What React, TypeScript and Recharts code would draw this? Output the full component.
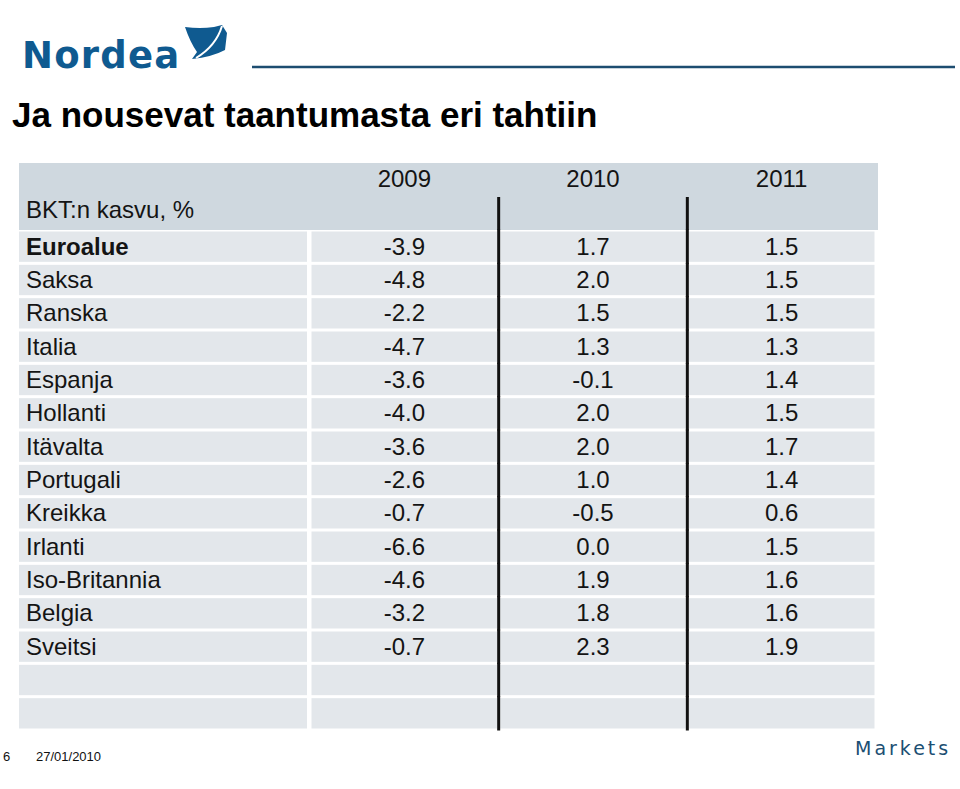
import { ScatterChart, Scatter, XAxis, YAxis } from "recharts";

const years = ["2009", "2010", "2011"];
const countries = [
  "Euroalue",
  "Saksa",
  "Ranska",
  "Italia",
  "Espanja",
  "Hollanti",
  "Itävalta",
  "Portugali",
  "Kreikka",
  "Irlanti",
  "Iso-Britannia",
  "Belgia",
  "Sveitsi",
];
const gdp2009 = [-3.9, -4.8, -2.2, -4.7, -3.6, -4.0, -3.6, -2.6, -0.7, -6.6, -4.6, -3.2, -0.7];
const gdp2010 = [1.7, 2.0, 1.5, 1.3, -0.1, 2.0, 2.0, 1.0, -0.5, 0.0, 1.9, 1.8, 2.3];
const gdp2011 = [1.5, 1.5, 1.5, 1.3, 1.4, 1.5, 1.7, 1.4, 0.6, 1.5, 1.6, 1.6, 1.9];
// two empty rows at the bottom of the table
const blankRows = [" ", "  "];

const rows = [...countries, ...blankRows];
const series = [gdp2009, gdp2010, gdp2011];

const cells = rows.flatMap((row, i) =>
  years.map((year, j) => ({
    row,
    year,
    value: i < countries.length ? series[j][i] : null,
  }))
);

// layout
const W = 960;
const H = 789;
const TABLE_LEFT = 19;
const LABEL_W = 291;
const HEADER_TOP = 163;
const HEADER_H = 67;
const MARGIN_RIGHT = 84;
const MARGIN_BOTTOM = 59;
const PLOT_W = W - TABLE_LEFT - LABEL_W - MARGIN_RIGHT;
const PLOT_H = H - HEADER_TOP - HEADER_H - MARGIN_BOTTOM;
const CELL_W = PLOT_W / years.length;
const CELL_H = PLOT_H / rows.length;

const FONT = "'Liberation Sans', Arial, sans-serif";
const CELL_BG = "#e3e7eb";
const HEADER_BG = "#cfd8df";
const TEXT = "#141414";

function ValueCell(props: any) {
  const { cx, cy, payload } = props;
  const showLine = payload.year !== years[0];
  return (
    <g>
      <rect
        x={cx - CELL_W / 2 + 1.5}
        y={cy - CELL_H / 2 + 1.5}
        width={CELL_W - 3}
        height={CELL_H - 3}
        fill={CELL_BG}
      />
      {showLine && (
        <line
          x1={cx - CELL_W / 2}
          x2={cx - CELL_W / 2}
          y1={cy - CELL_H / 2 - 0.5}
          y2={cy + CELL_H / 2 + 0.5}
          stroke="#111"
          strokeWidth={3}
        />
      )}
      {payload.value !== null && (
        <text
          x={cx}
          y={cy + 8}
          textAnchor="middle"
          fontSize={24}
          fontFamily={FONT}
          fill={TEXT}
        >
          {payload.value.toFixed(1)}
        </text>
      )}
    </g>
  );
}

function RowTick(props: any) {
  const { y, payload } = props;
  const label = String(payload.value).trim();
  return (
    <g>
      <rect
        x={TABLE_LEFT}
        y={y - CELL_H / 2 + 1.5}
        width={LABEL_W - 3}
        height={CELL_H - 3}
        fill={CELL_BG}
      />
      {label && (
        <text
          x={TABLE_LEFT + 7}
          y={y + 8}
          fontSize={24}
          fontFamily={FONT}
          fontWeight={label === "Euroalue" ? "bold" : "normal"}
          fill={TEXT}
        >
          {label}
        </text>
      )}
    </g>
  );
}

function YearTick(props: any) {
  const { x, y, payload } = props;
  const showLine = payload.value !== years[0];
  return (
    <g>
      {showLine && (
        <line
          x1={x - CELL_W / 2}
          x2={x - CELL_W / 2}
          y1={y - 33}
          y2={y}
          stroke="#111"
          strokeWidth={3}
        />
      )}
      <text
        x={x}
        y={y - 43}
        textAnchor="middle"
        fontSize={24}
        fontFamily={FONT}
        fill={TEXT}
      >
        {payload.value}
      </text>
    </g>
  );
}

function NordeaLogo() {
  return (
    <div style={{ position: "absolute", left: 0, top: 0, width: W, height: 80 }}>
      <div
        style={{
          position: "absolute",
          left: 22,
          top: 34,
          fontFamily: "'DejaVu Sans', sans-serif",
          fontWeight: "bold",
          fontSize: 37,
          letterSpacing: 1.2,
          color: "#0f5a90",
          lineHeight: "44px",
        }}
      >
        Nordea
      </div>
      <svg width={W} height={80} style={{ position: "absolute", left: 0, top: 0 }}>
        <path
          d="M185,27 Q200,29 214,27 L222,25 L227,33 L225,50 Q212,57 192,59 L197,52 Q190,42 185,27 Z"
          fill="#0f5a90"
        />
        <path d="M222,26 Q216,46 196,58" stroke="#fff" strokeWidth={2} fill="none" />
        <line x1={252} x2={955} y1={67} y2={67} stroke="#1d4d70" strokeWidth={2.5} />
      </svg>
    </div>
  );
}

export default function App() {
  return (
    <div
      style={{
        position: "absolute",
        left: 0,
        top: 0,
        width: W,
        height: H,
        background: "#fff",
        overflow: "hidden",
        fontFamily: FONT,
      }}
    >
      <NordeaLogo />
      <div
        style={{
          position: "absolute",
          left: 12,
          top: 94,
          fontSize: 35,
          fontWeight: "bold",
          lineHeight: "42px",
          color: "#000",
        }}
      >
        Ja nousevat taantumasta eri tahtiin
      </div>
      <div
        style={{
          position: "absolute",
          left: TABLE_LEFT,
          top: HEADER_TOP,
          width: W - TABLE_LEFT - MARGIN_RIGHT + 2,
          height: HEADER_H,
          background: HEADER_BG,
        }}
      />
      <div
        style={{
          position: "absolute",
          left: TABLE_LEFT + 7,
          top: 195,
          fontSize: 24,
          lineHeight: "30px",
          color: TEXT,
        }}
      >
        BKT:n kasvu, %
      </div>
      <div style={{ position: "absolute", left: 0, top: 0 }}>
        <ScatterChart
          width={W}
          height={H}
          margin={{ top: HEADER_TOP, right: MARGIN_RIGHT, bottom: MARGIN_BOTTOM, left: TABLE_LEFT }}
        >
          <XAxis
            xAxisId={0}
            type="category"
            dataKey="year"
            orientation="top"
            scale="band"
            allowDuplicatedCategory={false}
            ticks={years}
            height={HEADER_H}
            axisLine={false}
            tickLine={false}
            tickSize={0}
            tickMargin={0}
            interval={0}
            tick={(p: any) => <YearTick {...p} />}
          />
          <YAxis
            yAxisId={0}
            type="category"
            dataKey="row"
            scale="band"
            reversed
            allowDuplicatedCategory={false}
            ticks={rows}
            width={LABEL_W}
            axisLine={false}
            tickLine={false}
            tickSize={0}
            tickMargin={0}
            interval={0}
            tick={(p: any) => <RowTick {...p} />}
          />
          <Scatter
            data={cells}
            isAnimationActive={false}
            shape={(p: any) => <ValueCell {...p} />}
          />
        </ScatterChart>
      </div>
      <div style={{ position: "absolute", left: 3, top: 749, fontSize: 13, lineHeight: "16px", color: "#111" }}>
        6
      </div>
      <div style={{ position: "absolute", left: 36, top: 749, fontSize: 13, lineHeight: "16px", color: "#111" }}>
        27/01/2010
      </div>
      <div
        style={{
          position: "absolute",
          left: 855,
          top: 735,
          fontFamily: "'DejaVu Sans', sans-serif",
          fontSize: 19,
          letterSpacing: 3,
          lineHeight: "26px",
          color: "#1c4f73",
        }}
      >
        Markets
      </div>
    </div>
  );
}
